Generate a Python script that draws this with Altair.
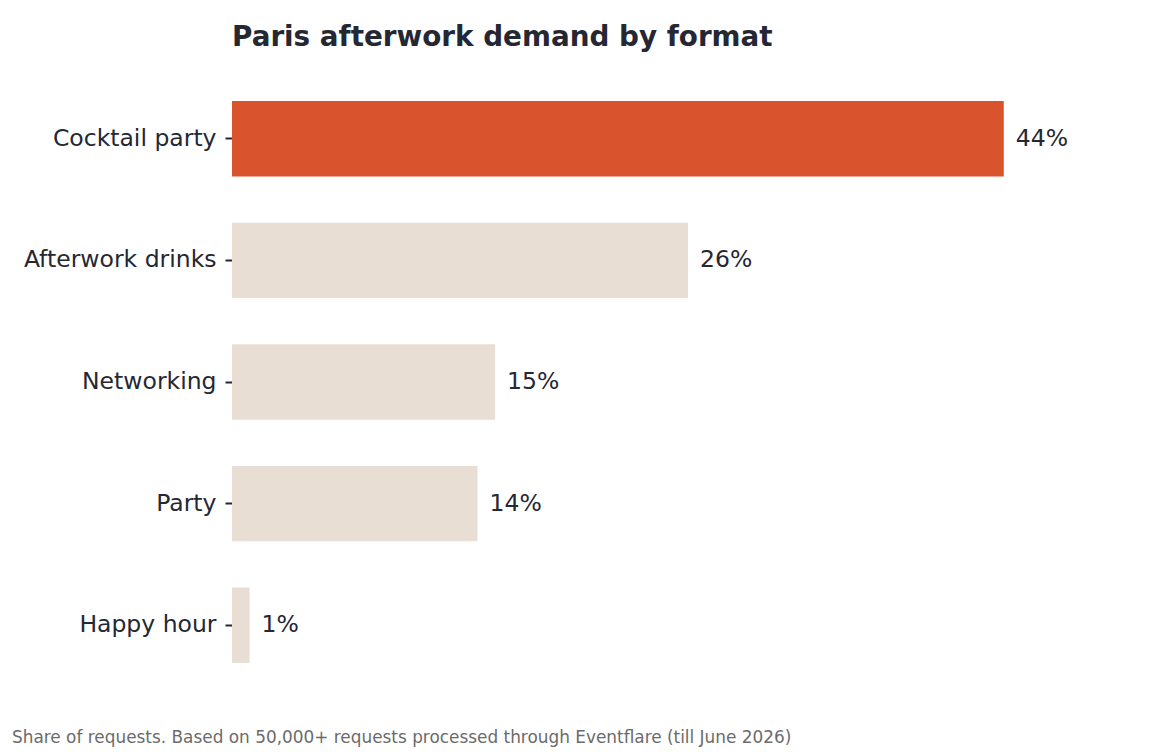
import altair as alt
import pandas as pd

formats = ["Cocktail party", "Afterwork drinks", "Networking", "Party", "Happy hour"]
shares = [44, 26, 15, 14, 1]
highlight = [True, False, False, False, False]
footer_text = ["Share of requests. Based on 50,000+ requests processed through Eventflare (till June 2026)"]

df = pd.DataFrame({
    "format": formats,
    "share": shares,
    "hl": highlight,
    "label": [f"{v}%" for v in shares],
})

FONT = "DejaVu Sans"
DARK = "#252733"
W, H = 877, 608

base = alt.Chart(df).encode(
    y=alt.Y("format:N", sort=formats, title=None,
            scale=alt.Scale(paddingInner=0.38, paddingOuter=0.19),
            axis=alt.Axis(labelFont=FONT, labelFontSize=23.5, labelColor=DARK, labelLimit=400,
                          ticks=True, tickSize=7, tickWidth=2, tickColor=DARK,
                          domain=False, labelPadding=9, grid=False)),
)

bars = base.mark_bar().encode(
    x=alt.X("share:Q", scale=alt.Scale(domain=[0, 50], nice=False), axis=None),
    color=alt.Color("hl:N", scale=alt.Scale(domain=[True, False], range=["#D9532C", "#E8DED4"]), legend=None),
)

labels = base.mark_text(align="left", baseline="middle", dx=12, font=FONT, fontSize=23.5, color=DARK).encode(
    x=alt.X("share:Q"),
    text="label:N",
)

footer = alt.Chart(pd.DataFrame({"t": footer_text})).mark_text(
    align="left", baseline="alphabetic", font=FONT, fontSize=16.9, color="#6B6B6B"
).encode(
    x=alt.value(-220), y=alt.value(665), text="t:N"
)

chart = alt.layer(bars, labels, footer).properties(
    width=W, height=H,
    padding={"left": 4, "top": 16, "right": 5, "bottom": 5},
    title=alt.TitleParams("Paris afterwork demand by format", font=FONT, fontSize=27.8,
                          fontWeight="bold", color=DARK, anchor="start", frame="group", offset=26),
).configure_view(stroke=None)

chart.save("out.html", embed_options={"renderer": "svg", "actions": False})
